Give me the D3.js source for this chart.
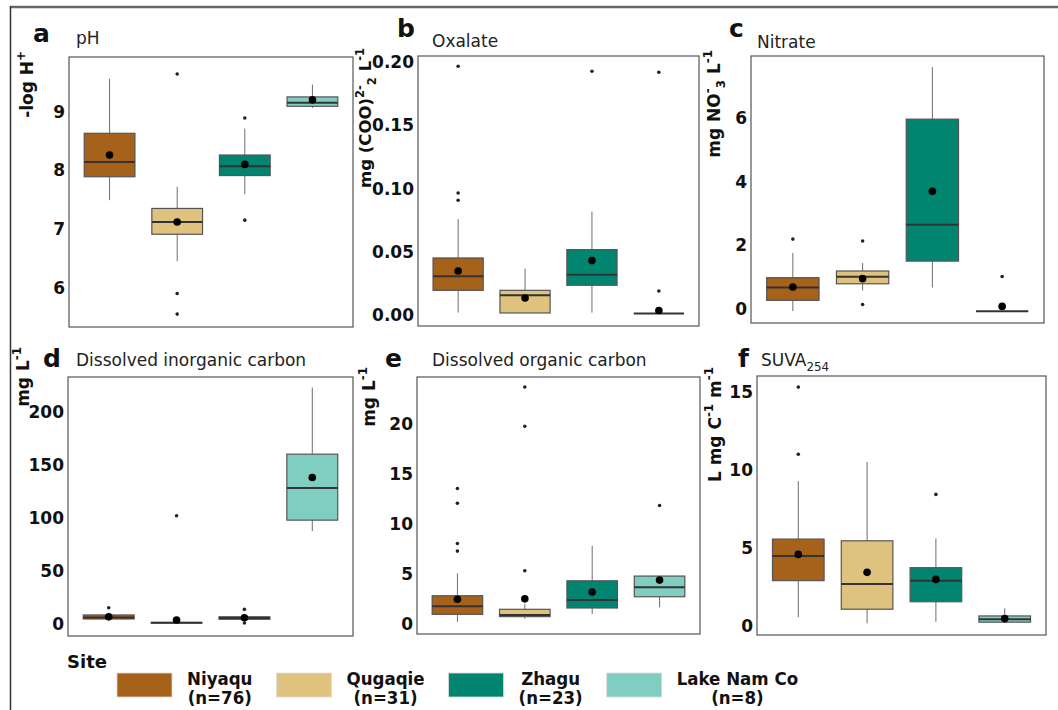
<!DOCTYPE html>
<html>
<head>
<meta charset="UTF-8">
<title>Water chemistry by site</title>
<script src="https://cdn.jsdelivr.net/npm/d3@7"></script>
<style>
    body {
        margin: 0;
        background: #fff;
    }
    text {
        font-family: "DejaVu Sans", Verdana, sans-serif;
        fill: #111;
    }
    .tick-label {
        font-size: 17px;
        font-weight: bold;
        text-anchor: end;
        dominant-baseline: central;
    }
    .ylab {
        font-weight: bold;
        text-anchor: end;
    }
    .letter {
        font-size: 25px;
        font-weight: bold;
    }
    .title {
        fill: #222;
    }
    .legend-title {
        font-size: 18px;
        font-weight: bold;
    }
    .legend-label {
        font-family: "DejaVu Sans Condensed", "Liberation Sans Narrow", sans-serif;
        font-stretch: condensed;
        font-size: 18.5px;
        font-weight: bold;
        text-anchor: middle;
    }
</style>
</head>
<body>
<div id="chart"></div>
<script>
    var sites = ["Niyaqu", "Qugaqie", "Zhagu", "Lake Nam Co"];
    var siteN = [76, 31, 23, 8];
    var siteColors = ["#a6611a", "#dfc27d", "#018571", "#80cdc1"];

    // one row per site: [lower whisker, q1, median, q3, upper whisker, mean]
    var phStats = [
        [7.48, 7.88, 8.13, 8.62, 9.55, 8.25],
        [6.44, 6.90, 7.11, 7.34, 7.71, 7.11],
        [7.58, 7.90, 8.06, 8.25, 8.70, 8.09],
        [9.05, 9.08, 9.14, 9.24, 9.45, 9.19]
    ];
    var phOutliers = [[], [9.63, 5.89, 5.54], [8.88, 7.14], []];
    var phTicks = [6, 7, 8, 9];

    var oxalateStats = [
        [0.0016, 0.0192, 0.0303, 0.0448, 0.0754, 0.0345],
        [0.0013, 0.0013, 0.0153, 0.0192, 0.0364, 0.0131],
        [0.0016, 0.0232, 0.0316, 0.0514, 0.0815, 0.0427],
        [0.0008, 0.0008, 0.0008, 0.0008, 0.0008, 0.0032]
    ];
    var oxalateOutliers = [[0.0904, 0.0962, 0.1964], [], [0.1925], [0.0187, 0.1917]];
    var oxalateTicks = [0, 0.05, 0.10, 0.15, 0.20];

    var nitrateStats = [
        [-0.08, 0.26, 0.66, 0.97, 1.74, 0.68],
        [0.57, 0.78, 1.00, 1.18, 1.43, 0.94],
        [0.66, 1.49, 2.63, 5.94, 7.57, 3.68],
        [-0.08, -0.08, -0.08, -0.08, -0.08, 0.07]
    ];
    var nitrateOutliers = [[2.18], [2.12, 0.13], [], [1.01]];
    var nitrateTicks = [0, 2, 4, 6];

    var dicStats = [
        [2.0, 4.1, 5.5, 7.9, 10.0, 6.2],
        [0.0, 0.3, 0.5, 0.8, 1.5, 3.1],
        [1.5, 3.8, 5.0, 6.2, 9.0, 5.3],
        [87.2, 97.6, 127.9, 160.0, 223.0, 138.0]
    ];
    var dicOutliers = [[14.7], [101.7], [13.2, 0.3], []];
    var dicTicks = [0, 50, 100, 150, 200];

    var docStats = [
        [0.20, 0.96, 1.76, 2.81, 5.04, 2.46],
        [0.53, 0.73, 0.90, 1.46, 2.00, 2.50],
        [0.99, 1.59, 2.39, 4.30, 7.78, 3.18],
        [1.66, 2.71, 3.65, 4.77, 4.77, 4.37]
    ];
    var docOutliers = [[7.26, 8.02, 12.03, 13.5], [5.3, 19.7, 23.6], [], [11.8]];
    var docTicks = [0, 5, 10, 15, 20];

    var suvaStats = [
        [0.56, 2.90, 4.47, 5.56, 9.27, 4.58],
        [0.17, 1.07, 2.68, 5.45, 10.5, 3.43],
        [0.27, 1.55, 2.90, 3.73, 5.60, 2.98],
        [0.20, 0.24, 0.43, 0.64, 1.13, 0.47]
    ];
    var suvaOutliers = [[10.99, 15.29], [], [8.42], []];
    var suvaTicks = [0, 5, 10, 15];

    // label pieces: [text, "sup" | "sub" | ""]
    var panels = [
        {letter: "a", title: [["pH", ""]], stats: phStats, outliers: phOutliers, ticks: phTicks,
         domain: [5.32, 9.92], fmt: d3.format("d"),
         ylab: [["-log H", ""], ["+", "sup"]], labSize: 17,
         box: [69, 57, 353, 327], labX: 33, labTop: 51, letterXY: [33, 42], titleXY: [76, 44]},
        {letter: "b", title: [["Oxalate", ""]], stats: oxalateStats, outliers: oxalateOutliers, ticks: oxalateTicks,
         domain: [-0.009, 0.2045], fmt: d3.format(".2f"),
         ylab: [["mg (COO)", ""], ["2-", "sup"], ["2", "sub"], [" L", ""], ["-1", "sup"]], labSize: 16.5,
         box: [418, 56, 699, 326], labX: 371, labTop: 48, letterXY: [397, 37], titleXY: [432, 47]},
        {letter: "c", title: [["Nitrate", ""]], stats: nitrateStats, outliers: nitrateOutliers, ticks: nitrateTicks,
         domain: [-0.45, 7.92], fmt: d3.format("d"),
         ylab: [["mg NO", ""], ["-", "sup"], ["3", "sub"], [" L", ""], ["-1", "sup"]], labSize: 17,
         box: [751, 56, 1044, 323], labX: 720, labTop: 50, letterXY: [729, 37], titleXY: [757, 48]},
        {letter: "d", title: [["Dissolved inorganic carbon", ""]], stats: dicStats, outliers: dicOutliers, ticks: dicTicks,
         domain: [-12, 233], fmt: d3.format("d"),
         ylab: [["mg L", ""], ["-1", "sup"]], labSize: 17,
         box: [68, 377, 353, 636], labX: 29, labTop: 347, letterXY: [43, 367], titleXY: [76, 366]},
        {letter: "e", title: [["Dissolved organic carbon", ""]], stats: docStats, outliers: docOutliers, ticks: docTicks,
         domain: [-1.0, 24.6], fmt: d3.format("d"),
         ylab: [["mg L", ""], ["-1", "sup"]], labSize: 17,
         box: [417, 377, 700, 634], labX: 375, labTop: 367, letterXY: [385, 367], titleXY: [432, 366]},
        {letter: "f", title: [["SUVA", ""], ["254", "sub"]], stats: suvaStats, outliers: suvaOutliers, ticks: suvaTicks,
         domain: [-0.58, 16.0], fmt: d3.format("d"),
         ylab: [["L mg C", ""], ["-1", "sup"], [" m", ""], ["-1", "sup"]], labSize: 17,
         box: [757, 376, 1046, 635], labX: 721, labTop: 367, letterXY: [738, 367], titleXY: [761, 366]}
    ];

    var W = 1058, H = 710;

    var svg = d3.select("#chart").append("svg")
        .attr("width", W)
        .attr("height", H);

    svg.append("rect").attr("width", W).attr("height", H).attr("fill", "#fff");

    // figure frame (only top and left edges are inside the picture)
    svg.append("line").attr("x1", 10).attr("x2", W).attr("y1", 7).attr("y2", 7)
        .attr("stroke", "#666").attr("stroke-width", 2.5);
    svg.append("line").attr("x1", 10.5).attr("x2", 10.5).attr("y1", 6).attr("y2", H)
        .attr("stroke", "#333").attr("stroke-width", 1.5);

    // writes pieces as tspans, shifting sup/sub with dy
    function richText(sel, parts, size) {
        var cur = 0;
        parts.forEach(function(p) {
            var target = p[1] == "sup" ? -size * 0.45 : p[1] == "sub" ? size * 0.3 : 0;
            sel.append("tspan")
                .attr("dy", target - cur)
                .style("font-size", p[1] ? (size * 0.7) + "px" : size + "px")
                .text(p[0]);
            cur = target;
        });
    }

    panels.forEach(function(p) {
        var x0 = p.box[0], y0 = p.box[1], x1 = p.box[2], y1 = p.box[3];

        var x = d3.scalePoint().domain(sites).range([x0, x1]).padding(0.6);
        var y = d3.scaleLinear().domain(p.domain).range([y1, y0]);
        var bw = x.step() * 0.75;

        var g = svg.append("g");

        // y axis: labels only, no line or ticks
        var axis = g.append("g")
            .attr("transform", "translate(" + x0 + ",0)")
            .call(d3.axisLeft(y).tickValues(p.ticks).tickFormat(p.fmt).tickSize(0).tickPadding(4));
        axis.select(".domain").remove();
        axis.selectAll("text")
            .attr("class", "tick-label")
            .attr("dy", null)
            .attr("fill", "#111");

        var boxes = g.selectAll(".site")
            .data(p.stats)
            .enter().append("g")
            .attr("class", "site");

        // whiskers
        boxes.append("line")
            .attr("x1", function(d, i) { return x(sites[i]); })
            .attr("x2", function(d, i) { return x(sites[i]); })
            .attr("y1", function(d) { return y(d[0]); })
            .attr("y2", function(d) { return y(d[4]); })
            .attr("stroke", "#6e6e6e")
            .attr("stroke-width", 1);

        boxes.append("rect")
            .attr("x", function(d, i) { return x(sites[i]) - bw / 2; })
            .attr("y", function(d) { return y(d[3]); })
            .attr("width", bw)
            .attr("height", function(d) { return Math.max(y(d[1]) - y(d[3]), 0); })
            .attr("fill", function(d, i) { return siteColors[i]; })
            .attr("stroke", "#555")
            .attr("stroke-width", 1.2);

        // median
        boxes.append("line")
            .attr("x1", function(d, i) { return x(sites[i]) - bw / 2; })
            .attr("x2", function(d, i) { return x(sites[i]) + bw / 2; })
            .attr("y1", function(d) { return y(d[2]); })
            .attr("y2", function(d) { return y(d[2]); })
            .attr("stroke", "#333")
            .attr("stroke-width", 2);

        boxes.selectAll(".outlier")
            .data(function(d, i) { return p.outliers[i].map(function(v) { return {site: sites[i], v: v}; }); })
            .enter().append("circle")
            .attr("class", "outlier")
            .attr("cx", function(d) { return x(d.site); })
            .attr("cy", function(d) { return y(d.v); })
            .attr("r", 1.8)
            .attr("fill", "#222");

        // mean
        boxes.append("circle")
            .attr("cx", function(d, i) { return x(sites[i]); })
            .attr("cy", function(d) { return y(d[5]); })
            .attr("r", 3.8)
            .attr("fill", "#000");

        g.append("rect")
            .attr("x", x0).attr("y", y0)
            .attr("width", x1 - x0).attr("height", y1 - y0)
            .attr("fill", "none")
            .attr("stroke", "#555")
            .attr("stroke-width", 1.2);

        g.append("text")
            .attr("class", "letter")
            .attr("x", p.letterXY[0]).attr("y", p.letterXY[1])
            .text(p.letter);

        var t = g.append("text")
            .attr("class", "title")
            .attr("x", p.titleXY[0]).attr("y", p.titleXY[1]);
        richText(t, p.title, 17);

        var yl = g.append("text")
            .attr("class", "ylab")
            .attr("transform", "translate(" + p.labX + "," + p.labTop + ") rotate(-90)");
        richText(yl, p.ylab, p.labSize);
    });

    // legend
    var legend = svg.append("g");
    legend.append("text")
        .attr("class", "legend-title")
        .attr("x", 67).attr("y", 668)
        .text("Site");

    var lx = 117;
    sites.forEach(function(s, i) {
        legend.append("rect")
            .attr("x", lx).attr("y", 673)
            .attr("width", 55).attr("height", 24)
            .attr("fill", siteColors[i])
            .attr("stroke", "#ddd")
            .attr("stroke-width", 0.8);

        var lab = legend.append("text").attr("class", "legend-label");
        lab.append("tspan").attr("x", 0).attr("y", 685).text(s);
        lab.append("tspan").attr("x", 0).attr("y", 704).text("(n=" + siteN[i] + ")");

        var w = lab.node().getBBox().width;
        var cx = lx + 55 + 15 + w / 2;
        lab.selectAll("tspan").attr("x", cx);
        lx = cx + w / 2 + 24;
    });
</script>
</body>
</html>
